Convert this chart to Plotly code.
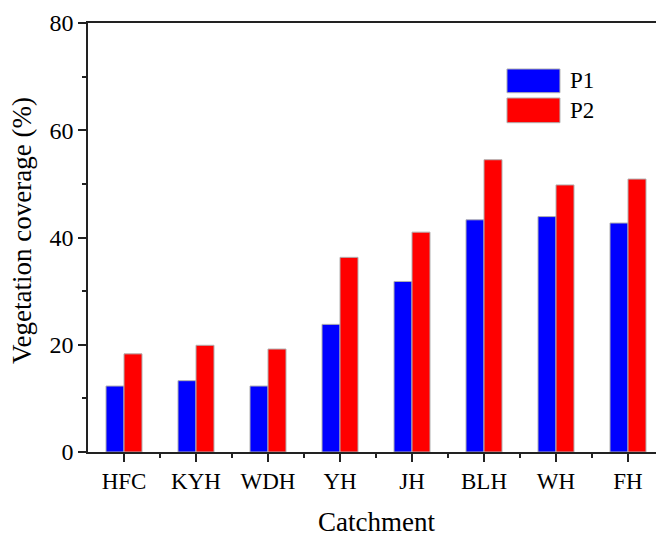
import plotly.graph_objects as go

categories = ["HFC", "KYH", "WDH", "YH", "JH", "BLH", "WH", "FH"]
p1_values = [12.3, 13.3, 12.3, 23.8, 31.8, 43.3, 43.9, 42.7]
p2_values = [18.3, 19.9, 19.2, 36.3, 41.0, 54.5, 49.8, 50.9]
y_ticks = [0, 20, 40, 60, 80]

x_pos = list(range(len(categories)))
FONT = "Liberation Serif, Times New Roman, serif"

fig = go.Figure()
fig.add_trace(go.Bar(x=x_pos, y=p1_values, name="P1", marker=dict(color="#0000FF", line=dict(color="#b0b0b0", width=1))))
fig.add_trace(go.Bar(x=x_pos, y=p2_values, name="P2", marker=dict(color="#FF0000", line=dict(color="#b0b0b0", width=1))))

# page body has an 8px default margin, so the figure is 8px smaller and offset
fig.update_layout(
    width=656, height=525,
    margin=dict(l=80, r=0, t=15, b=81, autoexpand=False),
    paper_bgcolor="white", plot_bgcolor="white",
    barmode="group", bargap=0.5, bargroupgap=0,
    showlegend=False,
    font=dict(family=FONT, color="black"),
)
fig.update_xaxes(
    automargin=False,
    range=[-0.5, len(categories) - 0.5],
    tickmode="array", tickvals=x_pos, ticktext=categories,
    ticks="outside", ticklen=8, tickwidth=1.5, tickcolor="#222",
    minor=dict(tickmode="array", tickvals=[i + 0.5 for i in x_pos], ticks="outside", ticklen=4, tickwidth=1.5, tickcolor="#222"),
    showline=True, linecolor="#222", linewidth=1.5, mirror=True,
    showgrid=False, zeroline=False,
    tickfont=dict(size=23, family=FONT),
)
fig.update_yaxes(
    automargin=False,
    range=[0, 80], tickmode="array", tickvals=y_ticks,
    ticks="outside", ticklen=8, tickwidth=1.5, tickcolor="#222",
    minor=dict(dtick=10, ticks="outside", ticklen=4, tickwidth=1.5, tickcolor="#222"),
    showline=True, linecolor="#222", linewidth=1.5, mirror=False,
    showgrid=False, zeroline=False,
    tickfont=dict(size=24, family=FONT),
)

# axis titles
fig.add_annotation(xref="paper", yref="paper", x=0.5, y=-0.163, text="Catchment",
                   showarrow=False, xanchor="center", yanchor="middle",
                   font=dict(size=27, family=FONT, color="black"))
fig.add_annotation(xref="paper", yref="paper", x=-0.1146, y=0.5175, text="Vegetation coverage (%)",
                   showarrow=False, xanchor="center", yanchor="middle", textangle=-90,
                   font=dict(size=27, family=FONT, color="black"))

# manual legend (large swatches)
legend_items = [("P1", "#0000FF", 0.8928, 0.8375), ("P2", "#FF0000", 0.8252, 0.7676)]
for name, color, y1, y0 in legend_items:
    fig.add_shape(type="rect", xref="paper", yref="paper", x0=0.7274, x1=0.8194, y0=y0, y1=y1,
                  fillcolor=color, line=dict(color="#b0b0b0", width=1))
    fig.add_annotation(xref="paper", yref="paper", x=0.8333, y=(y0 + y1) / 2, text=name,
                       showarrow=False, xanchor="left", yanchor="middle",
                       font=dict(size=23, family=FONT, color="black"))

fig.write_html("out.html", config={"displayModeBar": False})
